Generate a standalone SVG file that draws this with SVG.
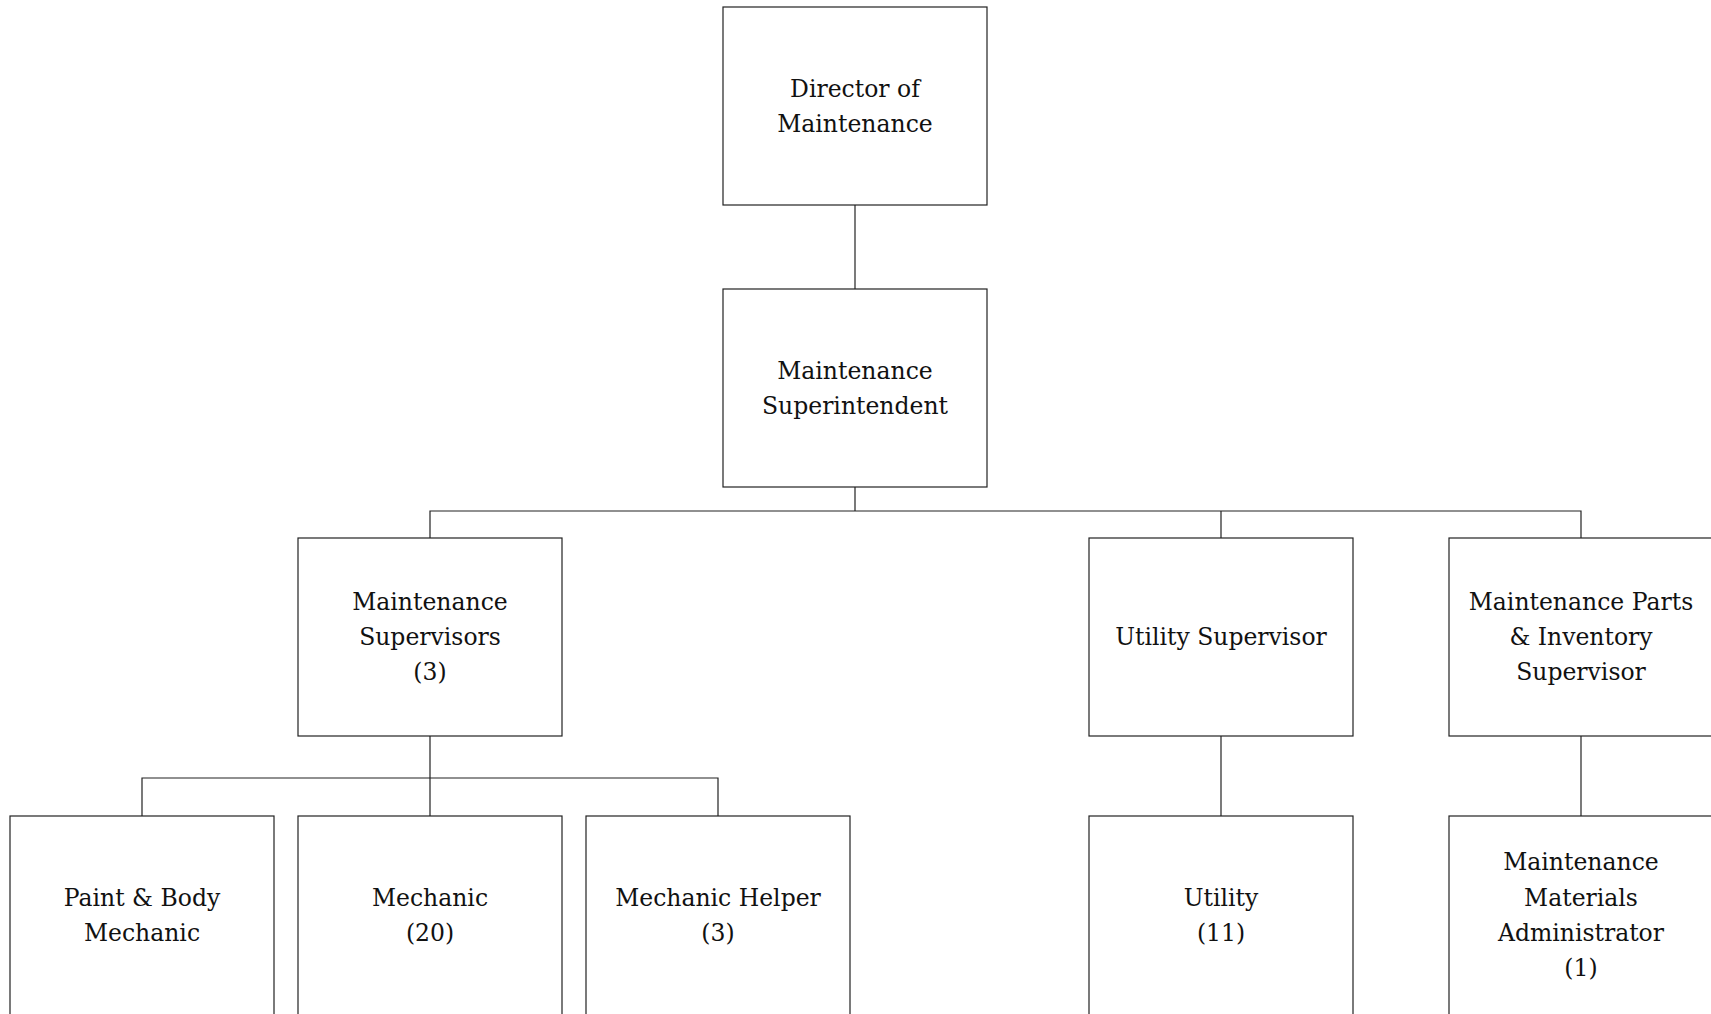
<svg xmlns="http://www.w3.org/2000/svg" width="1711" height="1014" viewBox="0 0 1711 1014">
<style>
.box{fill:#fff;stroke:#222;stroke-width:1.2}
.lbl{font-family:"DejaVu Serif","Liberation Serif",serif;font-size:23.5px;fill:#111;text-anchor:middle}
.con{fill:none;stroke:#222;stroke-width:1.2}
</style>
<rect width="1711" height="1014" fill="#fff"/>
<g id="connectors">
<path class="con" d="M855 205V289"/>
<path class="con" d="M855 487V511M430 538V511H1581V538M1221 511V538"/>
<path class="con" d="M430 736V816M142 816V778H718V816"/>
<path class="con" d="M1221 736V816"/>
<path class="con" d="M1581 736V816"/>
</g>
<g id="director">
<rect class="box" x="723" y="7" width="264" height="198"/>
<text class="lbl" x="855" y="97">Director of</text>
<text class="lbl" x="855" y="132">Maintenance</text>
</g>
<g id="superintendent">
<rect class="box" x="723" y="289" width="264" height="198"/>
<text class="lbl" x="855" y="379">Maintenance</text>
<text class="lbl" x="855" y="414">Superintendent</text>
</g>
<g id="maint-supervisors">
<rect class="box" x="298" y="538" width="264" height="198"/>
<text class="lbl" x="430" y="610">Maintenance</text>
<text class="lbl" x="430" y="645">Supervisors</text>
<text class="lbl" x="430" y="680">(3)</text>
</g>
<g id="utility-supervisor">
<rect class="box" x="1089" y="538" width="264" height="198"/>
<text class="lbl" x="1221" y="645">Utility Supervisor</text>
</g>
<g id="parts-supervisor">
<rect class="box" x="1449" y="538" width="264" height="198"/>
<text class="lbl" x="1581" y="610">Maintenance Parts</text>
<text class="lbl" x="1581" y="645">&amp; Inventory</text>
<text class="lbl" x="1581" y="680">Supervisor</text>
</g>
<g id="paint-body">
<rect class="box" x="10" y="816" width="264" height="210"/>
<text class="lbl" x="142" y="906">Paint &amp; Body</text>
<text class="lbl" x="142" y="941">Mechanic</text>
</g>
<g id="mechanic">
<rect class="box" x="298" y="816" width="264" height="210"/>
<text class="lbl" x="430" y="906">Mechanic</text>
<text class="lbl" x="430" y="941">(20)</text>
</g>
<g id="mechanic-helper">
<rect class="box" x="586" y="816" width="264" height="210"/>
<text class="lbl" x="718" y="906">Mechanic Helper</text>
<text class="lbl" x="718" y="941">(3)</text>
</g>
<g id="utility">
<rect class="box" x="1089" y="816" width="264" height="210"/>
<text class="lbl" x="1221" y="906">Utility</text>
<text class="lbl" x="1221" y="941">(11)</text>
</g>
<g id="materials-admin">
<rect class="box" x="1449" y="816" width="264" height="210"/>
<text class="lbl" x="1581" y="870">Maintenance</text>
<text class="lbl" x="1581" y="906">Materials</text>
<text class="lbl" x="1581" y="941">Administrator</text>
<text class="lbl" x="1581" y="976">(1)</text>
</g>
</svg>
